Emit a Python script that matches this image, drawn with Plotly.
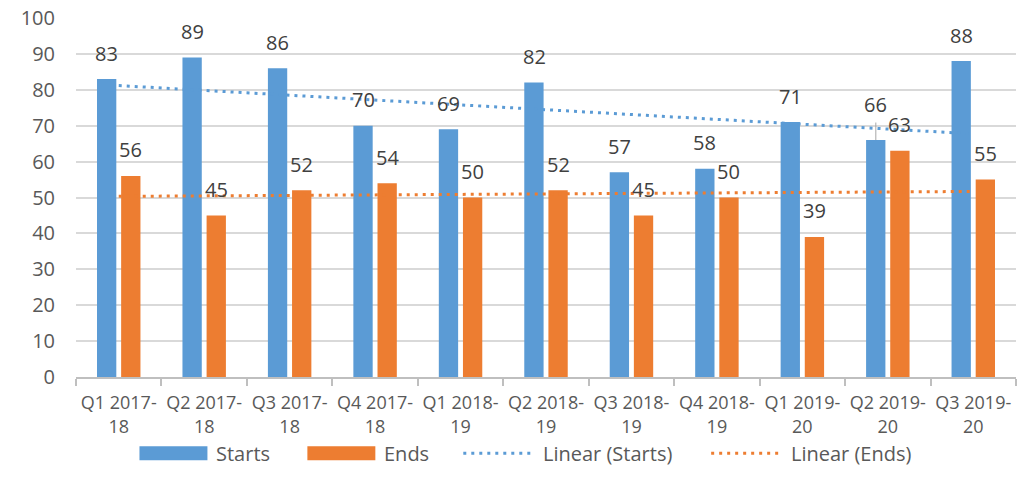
import numpy as np
import plotly.graph_objects as go

categories = ["Q1 2017-<br>18", "Q2 2017-<br>18", "Q3 2017-<br>18", "Q4 2017-<br>18",
              "Q1 2018-<br>19", "Q2 2018-<br>19", "Q3 2018-<br>19", "Q4 2018-<br>19",
              "Q1 2019-<br>20", "Q2 2019-<br>20", "Q3 2019-<br>20"]
starts = [83, 89, 86, 70, 69, 82, 57, 58, 71, 66, 88]
ends = [56, 45, 52, 54, 50, 52, 45, 50, 39, 63, 55]
y_ticks = [0, 10, 20, 30, 40, 50, 60, 70, 80, 90, 100]

BLUE = "#5B9BD5"
ORANGE = "#ED7D31"
FONT = "Open Sans"
FS = 20
LABEL_COLOR = "#404040"
TICK_COLOR = "#595959"

idx = np.arange(1, len(categories) + 1)
s_fit = np.polyval(np.polyfit(idx, starts, 1), idx)
e_fit = np.polyval(np.polyfit(idx, ends, 1), idx)

fig = go.Figure()
fig.add_trace(go.Bar(x=categories, y=starts, name="Starts", marker=dict(color=BLUE, line=dict(width=0))))
fig.add_trace(go.Bar(x=categories, y=ends, name="Ends", marker=dict(color=ORANGE, line=dict(width=0))))
fig.add_trace(go.Scatter(x=categories, y=s_fit, mode="lines", name="Linear (Starts)",
                         line=dict(color=BLUE, width=3, dash="3px,5px")))
fig.add_trace(go.Scatter(x=categories, y=e_fit, mode="lines", name="Linear (Ends)",
                         line=dict(color=ORANGE, width=3, dash="3px,5px")))

# data labels
bar_offset = 12  # px from category center to bar center
annotations = []
for i, c in enumerate(categories):
    ys_shift = 36 if i == 9 else 26
    annotations.append(dict(x=c, y=starts[i], xref="x", yref="y", text=str(starts[i]),
                            showarrow=False, xshift=-bar_offset, yshift=ys_shift,
                            font=dict(family=FONT, size=FS, color=LABEL_COLOR)))
    annotations.append(dict(x=c, y=ends[i], xref="x", yref="y", text=str(ends[i]),
                            showarrow=False, xshift=bar_offset, yshift=26,
                            font=dict(family=FONT, size=FS, color=LABEL_COLOR)))

shapes = []
# leader line for the Q2 2019-20 starts label
annotations.append(dict(x=categories[9], y=starts[9], xref="x", yref="y", ax=0, ay=-19,
                        axref="pixel", ayref="pixel", xshift=-bar_offset, text="",
                        showarrow=True, arrowhead=0, arrowwidth=1, arrowcolor="#A6A6A6",
                        standoff=0, startstandoff=0))

# figure pixel coordinates of the plot area
L, R, T, B = 75.5, 1016, 17.5, 377.5
W, H = 1030, 494

def px_x(p):
    return (p - L) / (R - L)
def px_y(p):
    return (B - p) / (B - T)

ly = 454
legend_items = [
    ("bar", BLUE, 139, 207, "Starts", 214),
    ("bar", ORANGE, 307, 375, "Ends", 382),
    ("line", BLUE, 463, 533, "Linear (Starts)", 541),
    ("line", ORANGE, 711, 782, "Linear (Ends)", 789),
]
for kind, col, x0, x1, txt, tx in legend_items:
    if kind == "bar":
        shapes.append(dict(type="rect", xref="paper", yref="paper",
                           x0=px_x(x0), x1=px_x(x1), y0=px_y(ly + 7), y1=px_y(ly - 7),
                           fillcolor=col, line=dict(width=0)))
    else:
        shapes.append(dict(type="line", xref="paper", yref="paper",
                           x0=px_x(x0), x1=px_x(x1), y0=px_y(ly), y1=px_y(ly),
                           line=dict(color=col, width=3, dash="3px,5px")))
    annotations.append(dict(x=px_x(tx), y=px_y(ly), xref="paper", yref="paper", text=txt,
                            showarrow=False, xanchor="left", yanchor="middle",
                            font=dict(family=FONT, size=FS, color=TICK_COLOR)))

fig.update_layout(
    width=W, height=H,
    margin=dict(l=L, r=W - R, t=T, b=H - B, autoexpand=False),
    paper_bgcolor="white", plot_bgcolor="white",
    barmode="group", bargap=0.435, bargroupgap=0.2,
    showlegend=False,
    font=dict(family=FONT, size=FS, color=TICK_COLOR),
    annotations=annotations, shapes=shapes,
)
fig.update_xaxes(type="category", tickson="boundaries", ticks="outside", ticklen=7,
                 tickcolor="#BFBFBF", tickwidth=1.5, showline=True, linecolor="#BFBFBF", linewidth=1.5,
                 showgrid=False, tickangle=0, automargin=False, ticklabelstandoff=9,
                 ticklabeloverflow="allow",
                 tickfont=dict(family=FONT, size=18, color=TICK_COLOR))
fig.update_yaxes(range=[0, 100], tickvals=y_ticks, showgrid=True, gridcolor="#D9D9D9", gridwidth=1.5,
                 zeroline=False, showline=False, ticks="", ticklabelstandoff=20, automargin=False,
                 ticklabeloverflow="allow",
                 tickfont=dict(family=FONT, size=FS, color=TICK_COLOR))

fig.write_html("out.html", config={"displayModeBar": False},
               post_script="document.body.style.margin='0';document.body.style.overflow='hidden';")
